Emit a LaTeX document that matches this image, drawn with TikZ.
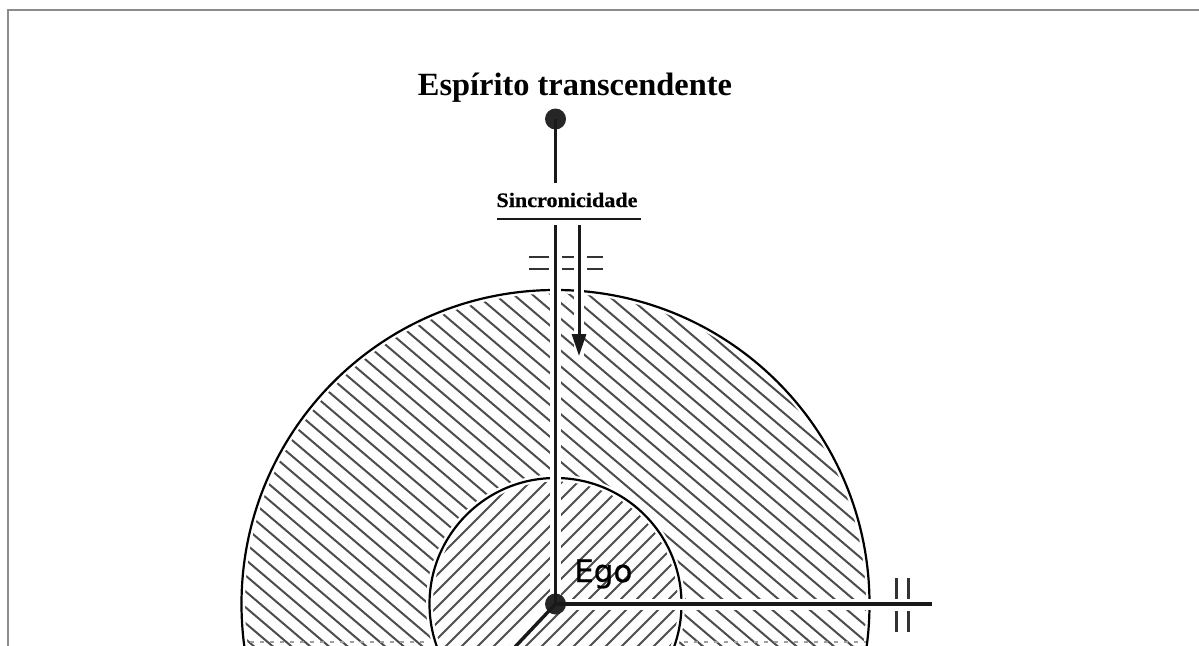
\documentclass[tikz,border=0pt]{standalone}
\usepackage{fontspec}
\usetikzlibrary{arrows.meta}
\newfontfamily\titlefont{Liberation Serif}
\newfontfamily\syncfont[FakeBold=0.6]{Liberation Serif Bold}
\newfontfamily\egofont[FakeBold=0.8]{DejaVu Sans}
\definecolor{hatchcol}{HTML}{4C4C4C}
\definecolor{framecol}{HTML}{8C8C8C}
\begin{document}
\begin{tikzpicture}[x=1pt,y=-1pt,
  dot/.style={circle,fill=black!85,inner sep=0pt,minimum size=21pt},
  mainline/.style={line width=3.4pt,black!90},
  halo/.style={line width=11pt,white},
  hatchline/.style={line width=2pt,hatchcol},
  tickmark/.style={line width=2.6pt,black!80},
  rim/.style={line width=2.2pt,black},
  rimhalo/.style={line width=7pt,white}]
\useasboundingbox (0,0) rectangle (1199,645);
\clip (0,0) rectangle (1199,645);
% frame
\draw[framecol, line width=2pt] (8,650) -- (8,10) -- (1205,10);
\coordinate (c) at (555.5,604);
% hatching of outer ring
\begin{scope}[even odd rule]
\clip (c) circle[radius=314pt] (c) circle[radius=126pt];
\foreach \k in {-460,-444.1,...,455} \draw[hatchline] (200,170+\k) -- (900,765+\k);
\end{scope}
% hatching of inner disc
\begin{scope}
\clip (c) circle[radius=126pt];
\foreach \k in {900,916,...,1345} \draw[hatchline] (300,\k-300) -- (800,\k-800);
\end{scope}
% circles
\draw[rimhalo] (c) circle[radius=314pt];
\draw[rimhalo] (c) circle[radius=126pt];
\draw[rim] (c) circle[radius=314pt];
\draw[rim] (c) circle[radius=126pt];
% coordinates
\coordinate (stemend) at (555.5,183);
\coordinate (axtop) at (555.5,225);
\coordinate (arrowtop) at (579,225);
\coordinate (arrowtip) at (579,356);
\coordinate (hend) at (932,604);
\coordinate (dend) at (497,666);
\coordinate (ul1) at (497,219);
\coordinate (ul2) at (641,219);
% halos
\draw[halo] (axtop) -- (c);
\draw[halo,line width=10pt] (arrowtop) -- (arrowtip);
\draw[halo] (c) -- (hend);
\draw[halo] (c) -- (dend);
% bottom dashed marks
\draw[gray!75, line width=1.4pt, dash pattern=on 4pt off 6pt] (250,642) -- (428,642);
\draw[gray!75, line width=1.4pt, dash pattern=on 4pt off 6pt] (684,642) -- (866,642);
% dots
\node[dot] (spirit) at (555.5,119) {};
\node[dot] (ego) at (c) {};
% lines
\draw[mainline] (spirit.center) -- (stemend);
\draw[mainline] (axtop) -- (ego.center);
\draw[mainline] (ego.center) -- (hend);
\draw[mainline] (ego.center) -- (dend);
\draw[mainline,line width=3pt,-{Triangle[length=22pt,width=14pt]}] (arrowtop) -- (arrowtip);
\draw[line width=2.8pt,black!90] (ul1) -- (ul2);
% tick marks
\foreach \yy in {257,269} {
  \draw[tickmark] (529,\yy) -- (549,\yy);
  \draw[tickmark] (562,\yy) -- (574,\yy);
  \draw[tickmark] (587,\yy) -- (603,\yy);
}
\foreach \xx in {896,908} {
  \draw[tickmark,line width=3pt] (\xx,578) -- (\xx,599);
  \draw[tickmark,line width=3pt] (\xx,611) -- (\xx,632);
}
% texts
\node[anchor=base, inner sep=0pt, font=\titlefont\bfseries\fontsize{32.4}{36}\selectfont] (title) at (575,95) {Espírito transcendente};
\node[anchor=base, inner sep=0pt, font=\syncfont\fontsize{20.5}{24}\selectfont] (sync) at (567,207) {\scalebox{1.08}[1]{Sincronicidade}};
\node[anchor=base west, inner sep=0pt, font=\egofont\fontsize{31}{36}\selectfont] (egolabel) at (574,582) {Ego};
\end{tikzpicture}
\end{document}
